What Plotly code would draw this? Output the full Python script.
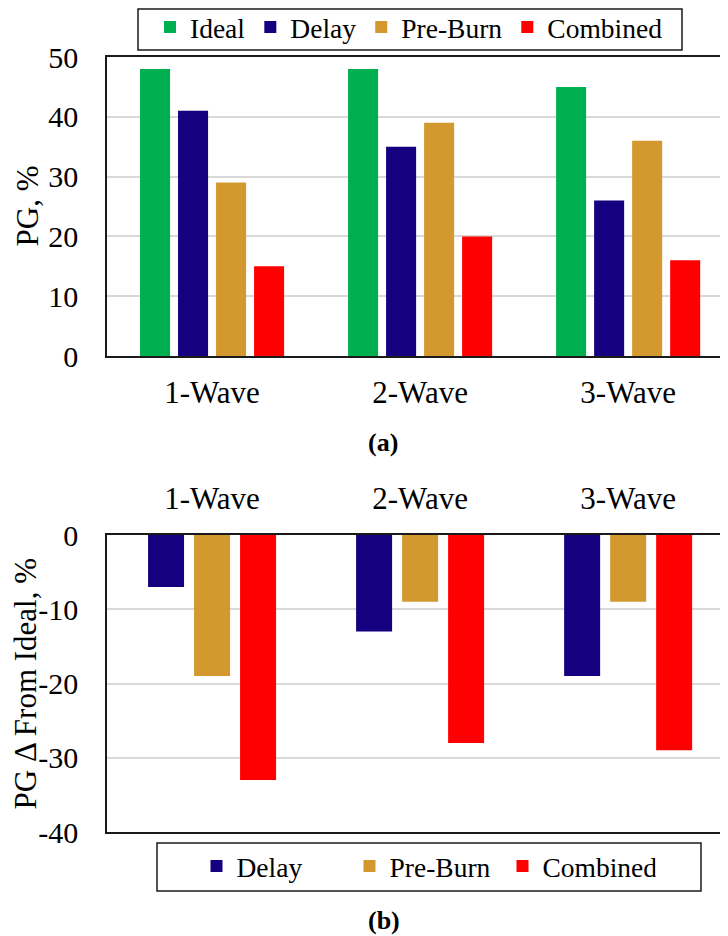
import plotly.graph_objects as go

# ---------------- data ----------------
categories = ["1-Wave", "2-Wave", "3-Wave"]

ideal = [48, 48, 45]
delay = [41, 35, 26]
preburn = [29, 39, 36]
combined = [15, 20, 16]

delta_delay = [-7, -13, -19]
delta_preburn = [-19, -9, -9]
delta_combined = [-33, -28, -29]

series_names = ["Ideal", "Delay", "Pre-Burn", "Combined"]
top_ticks = [0, 10, 20, 30, 40, 50]
top_tick_text = ["0", "10", "20", "30", "40", "50"]
bottom_ticks = [0, -10, -20, -30, -40]
bottom_tick_text = ["0", "-10", "-20", "-30", "-40"]

# ---------------- style ----------------
# the page body has an 8px margin, so the figure is drawn 8px in from the window edge
OFF = 8
W, H = 720, 928
FONT = "Liberation Serif, Times New Roman, serif"
colors = {"Ideal": "#00B050", "Delay": "#15007F", "Pre-Burn": "#D4992E", "Combined": "#FF0000"}
LINE = "#1a1a1a"
GRID = "#d9d9d9"
TICK_SIZE = 30


def fx(p):
    return (p - OFF) / W


def fy(p):
    return 1 - (p - OFF) / H


fig = go.Figure()

top_values = {"Ideal": ideal, "Delay": delay, "Pre-Burn": preburn, "Combined": combined}
for name in series_names:
    fig.add_trace(go.Bar(
        x=categories, y=top_values[name], name=name,
        marker=dict(color=colors[name], line=dict(width=0)),
        xaxis="x", yaxis="y", legend="legend",
    ))

bottom_values = {"Delay": delta_delay, "Pre-Burn": delta_preburn, "Combined": delta_combined}
slot = 46 / 208
bar_w = 36 / 208
first_off = -1.5 * slot + (slot - bar_w) / 2
for i, name in enumerate(["Delay", "Pre-Burn", "Combined"]):
    fig.add_trace(go.Bar(
        x=categories, y=bottom_values[name], name=name,
        marker=dict(color=colors[name], line=dict(width=0)),
        width=bar_w, offset=first_off + i * slot,
        xaxis="x2", yaxis="y2", legend="legend2",
    ))

x_dom = [fx(107), 1.0]
x_rng = [-0.505, 2.48]

common_x = dict(
    type="category", domain=x_dom, range=x_rng, showline=True, mirror=True,
    linecolor=LINE, linewidth=1.5, ticks="", showgrid=False, automargin=False,
    tickfont=dict(family=FONT, size=31, color="black"),
)
common_y = dict(
    showline=True, linecolor=LINE, linewidth=1.5, ticks="", showgrid=True,
    gridcolor=GRID, gridwidth=1.5, zeroline=False, automargin=False,
    tickfont=dict(family=FONT, size=TICK_SIZE, color="black"),
    ticklabelstandoff=21,
)

legend_common = dict(
    orientation="h", xanchor="center", yanchor="middle",
    borderwidth=0, bgcolor="rgba(0,0,0,0)",
    font=dict(family=FONT, size=27.5, color="black"),
)

title_font = dict(family=FONT, size=31, color="black")


def note(text, x, y, size, angle=0):
    return dict(text=text, x=fx(x), y=fy(y), xref="paper", yref="paper",
                xanchor="center", yanchor="middle", textangle=angle,
                showarrow=False, font=dict(family=FONT, size=size, color="black"))


fig.update_layout(
    width=W, height=H,
    margin=dict(l=0, r=0, t=0, b=0, pad=0, autoexpand=False),
    paper_bgcolor="white", plot_bgcolor="white",
    barmode="group", bargap=0.269, bargroupgap=0.21,
    font=dict(family=FONT, color="black"),
    xaxis=dict(common_x, anchor="y", ticklabelstandoff=8),
    yaxis=dict(common_y, anchor="x", domain=[fy(356), fy(57)], range=[0, 50],
               tickvals=top_ticks, ticktext=top_tick_text),
    xaxis2=dict(common_x, anchor="y2", side="top", ticklabelstandoff=12),
    yaxis2=dict(common_y, anchor="x2", domain=[fy(832), fy(535)], range=[-40, 0],
                tickvals=bottom_ticks, ticktext=bottom_tick_text),
    legend=dict(legend_common, x=fx(409), y=fy(27)),
    legend2=dict(legend_common, x=fx(426), y=fy(866), entrywidth=108, entrywidthmode="pixels"),
    shapes=[
        dict(type="rect", xref="paper", yref="paper",
             x0=fx(138), x1=fx(682), y0=fy(50), y1=fy(9),
             line=dict(color=LINE, width=1.5), fillcolor="rgba(0,0,0,0)", layer="below"),
        dict(type="rect", xref="paper", yref="paper",
             x0=fx(157), x1=fx(701), y0=fy(891), y1=fy(843),
             line=dict(color=LINE, width=1.5), fillcolor="rgba(0,0,0,0)", layer="below"),
    ],
    annotations=[
        note("PG, %", 27, 206.5, 31, -90),
        note("PG Δ From Ideal, %", 25, 683.5, 31, -90),
        note("<b>(a)</b>", 383, 442, 26),
        note("<b>(b)</b>", 384, 920, 26),
    ],
)

fig.write_html("out.html")
